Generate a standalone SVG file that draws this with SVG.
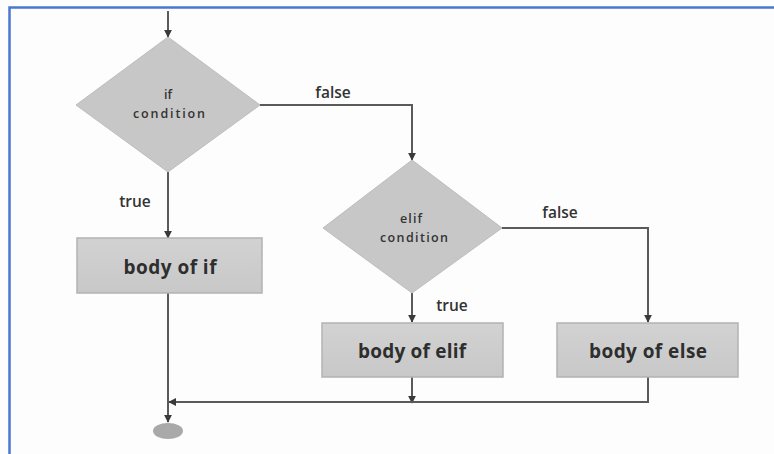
<svg xmlns="http://www.w3.org/2000/svg" width="774" height="454" viewBox="0 0 774 454">
  <defs>
    <marker id="arrow" viewBox="0 0 10 10" refX="9" refY="5" markerWidth="4" markerHeight="4" orient="auto" markerUnits="strokeWidth">
      <path d="M0,0 L10,5 L0,10 z" fill="#3a3a3a"/>
    </marker>
    <linearGradient id="boxFill" x1="0" y1="0" x2="0" y2="1">
      <stop offset="0" stop-color="#d2d2d2"/>
      <stop offset="1" stop-color="#c8c8c8"/>
    </linearGradient>
  </defs>
  <style>
    .diamond { fill: #c7c7c7; stroke: #bdbdbd; stroke-width: 1; }
    .box { fill: url(#boxFill); stroke: #b2b2b2; stroke-width: 1.5; }
    .edge { fill: none; stroke: #5a5a5a; stroke-width: 2; }
    .arrow { marker-end: url(#arrow); }
    .boxText { font-family: "Open Sans", "Liberation Sans", sans-serif; font-weight: 700; font-size: 19px; fill: #2e2e2e; text-anchor: middle; }
    .condText { font-family: "Open Sans", "Liberation Sans", sans-serif; font-weight: 600; font-size: 12.5px; fill: #333; text-anchor: middle; }
    .label { font-family: "Open Sans", "Liberation Sans", sans-serif; font-weight: 600; font-size: 15.5px; fill: #333; text-anchor: middle; }
    .frame { stroke: #4a78cf; stroke-width: 2.5; fill: none; }
  </style>

  <rect width="774" height="454" fill="#fdfdfd"/>
  <!-- frame (top and left edges) -->
  <path class="frame" d="M9.5,454 V7.5 H774"/>

  <!-- connectors -->
  <g id="connectors">
    <line class="edge arrow" x1="168" y1="11" x2="168" y2="37"/>
    <line class="edge arrow" x1="168" y1="172" x2="168" y2="238"/>
    <polyline class="edge arrow" points="260,105 412,105 412,160"/>
    <line class="edge arrow" x1="412" y1="293" x2="412" y2="322"/>
    <polyline class="edge arrow" points="502,228 648,228 648,322"/>
    <line class="edge arrow" x1="412" y1="377" x2="412" y2="403"/>
    <polyline class="edge arrow" points="648,377 648,402 169,402"/>
    <line class="edge arrow" x1="168" y1="293" x2="168" y2="422"/>
    <text class="label" x="333" y="98">false</text>
    <text class="label" x="135" y="207">true</text>
    <text class="label" x="560" y="218">false</text>
    <text class="label" x="452" y="311">true</text>
  </g>

  <g id="if-condition">
    <polygon class="diamond" points="168,37 260,105 168,172 76,105"/>
    <text class="condText" x="168" y="99" font-size="13">if</text>
    <text class="condText" x="169" y="118" textLength="72" lengthAdjust="spacing">condition</text>
  </g>

  <g id="elif-condition">
    <polygon class="diamond" points="412,160 502,228 412,293 323,228"/>
    <text class="condText" x="411" y="223" font-size="14" textLength="22" lengthAdjust="spacing">elif</text>
    <text class="condText" x="414" y="242" textLength="68" lengthAdjust="spacing">condition</text>
  </g>

  <g id="body-if">
    <rect class="box" x="77" y="238" width="185" height="55"/>
    <text class="boxText" x="170" y="274" textLength="93" lengthAdjust="spacing">body of if</text>
  </g>

  <g id="body-elif">
    <rect class="box" x="322" y="323" width="181" height="54"/>
    <text class="boxText" x="412" y="358" textLength="108" lengthAdjust="spacing">body of elif</text>
  </g>

  <g id="body-else">
    <rect class="box" x="557" y="323" width="181" height="54"/>
    <text class="boxText" x="648" y="358" textLength="118" lengthAdjust="spacing">body of else</text>
  </g>

  <g id="end">
    <ellipse cx="168" cy="431" rx="15" ry="8" fill="#a9a9a9"/>
  </g>
</svg>
